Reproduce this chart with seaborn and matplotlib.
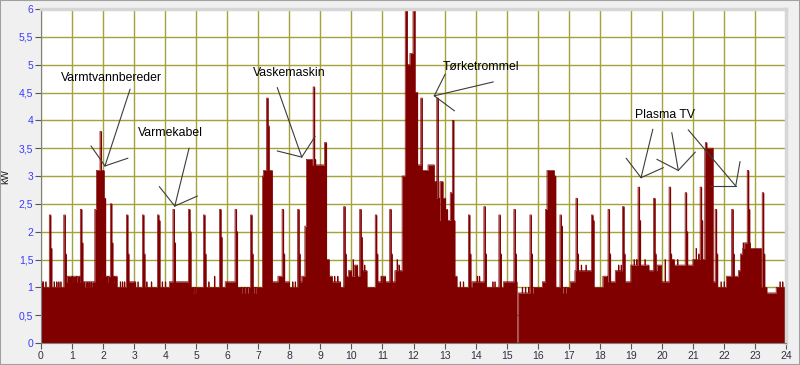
import numpy as np
import pandas as pd
import matplotlib
matplotlib.use("Agg")
import matplotlib.pyplot as plt
from matplotlib.patches import Rectangle
from matplotlib.ticker import FuncFormatter
import seaborn as sns

# ---------------- data (hours, kW) ----------------
base_t = [0.00, 0.08, 0.80, 0.85, 1.25, 1.72, 1.78, 2.02, 2.07, 2.45, 2.80, 3.05,
          4.13, 4.77, 5.35, 5.93, 6.33, 7.13, 7.16, 7.45, 7.62, 7.80, 8.00, 8.30,
          8.40, 8.50, 8.55, 8.72, 9.12, 9.20, 9.27, 9.37, 9.64, 9.78, 9.90, 10.00,
          10.10, 10.20, 10.30, 10.50, 10.76, 11.00, 11.10, 11.40, 11.50, 11.55, 11.62, 11.73,
          11.80, 11.87, 11.97, 12.05, 12.13, 12.25, 12.46, 12.66, 12.72, 12.78, 12.85, 12.95,
          13.03, 13.10, 13.17, 13.24, 13.30, 13.40, 13.88, 14.30, 14.90, 15.33, 15.37, 15.85,
          16.15, 16.25, 16.30, 16.53, 16.57, 17.05, 17.20, 17.75, 18.10, 18.25, 18.50, 18.75,
          19.00, 19.58, 19.85, 19.98, 20.25, 20.40, 21.00, 21.37, 21.64, 21.72, 22.07, 22.46,
          22.53, 22.60, 22.66, 22.85, 23.20, 23.38, 23.68]
base_kw = [1.1, 1.0, 1.1, 1.2, 1.1, 2.4, 3.1, 2.6, 1.2, 1.0, 1.1, 1.0,
           1.1, 1.0, 1.0, 1.1, 1.0, 3.0, 3.1, 1.1, 1.2, 1.1, 1.0, 1.1,
           1.2, 2.1, 3.3, 3.2, 3.6, 1.5, 1.2, 1.1, 1.0, 1.2, 1.3, 1.2,
           1.4, 1.2, 1.3, 1.0, 1.1, 1.2, 1.1, 1.3, 1.4, 1.3, 3.0, 6.4,
           5.0, 5.2, 6.3, 4.5, 3.2, 3.1, 3.2, 2.9, 2.6, 2.2, 2.9, 2.6,
           2.4, 2.2, 2.7, 1.6, 1.2, 1.0, 1.1, 1.0, 1.1, 0.0, 0.9, 1.0,
           1.1, 2.4, 3.1, 3.0, 1.0, 1.1, 1.3, 1.0, 1.2, 1.1, 1.3, 1.1,
           1.4, 1.3, 1.4, 1.1, 1.5, 1.4, 1.5, 3.5, 1.1, 1.0, 1.2, 1.3,
           1.6, 1.7, 1.8, 1.7, 1.0, 0.9, 1.0]

spike_t = [0.26, 0.74, 1.27, 1.90, 2.24, 2.75, 3.26, 3.75, 4.25, 4.75, 5.24, 5.75,
           6.25, 6.75, 7.26, 7.76, 8.26, 8.77, 9.75, 10.26, 10.76, 11.24, 12.24, 12.75,
           13.25, 13.76, 14.26, 14.75, 15.24, 15.75, 16.72, 17.24, 17.74, 18.26, 18.74, 19.24,
           19.74, 20.24, 20.75, 21.24, 21.40, 21.72, 22.25, 22.75, 23.24]
spike_kw = [2.3, 2.3, 2.4, 3.8, 2.5, 2.3, 2.3, 2.3, 2.4, 2.4, 2.3, 2.4,
            2.4, 2.3, 4.4, 2.4, 2.4, 4.6, 2.45, 2.4, 2.3, 2.4, 4.4, 4.4,
            4.0, 2.3, 2.45, 2.3, 2.4, 2.3, 2.3, 2.6, 2.3, 2.4, 2.45, 2.8,
            2.6, 2.8, 2.7, 2.8, 3.6, 2.4, 2.4, 3.1, 2.7]
shoulder_kw = [1.7, 1.6, 1.8, 3.1, 1.8, 1.6, 1.6, 2.2, 1.8, 2.0, 1.6, 1.9,
               2.0, 1.6, 3.9, 1.6, 1.6, 3.3, 1.6, 1.9, 1.6, 1.6, 3.1, 2.6,
               2.2, 1.6, 1.6, 1.6, 1.6, 1.6, 2.1, 1.6, 2.2, 1.6, 1.6, 2.2,
               1.6, 1.6, 2.0, 2.2, 3.5, 1.6, 1.6, 2.4, 1.6]

flick_t = [0.15, 0.33, 0.42, 0.50, 0.57, 0.64, 0.92, 1.00, 1.08, 1.15, 1.40, 1.48,
           1.55, 1.62, 2.15, 2.35, 2.55, 2.62, 2.68, 3.12, 3.40, 3.55, 3.90, 4.00,
           4.90, 4.97, 5.40, 5.58, 6.45, 6.55, 6.65, 6.85, 6.92, 8.10, 8.18, 9.45,
           9.55, 9.85, 10.05, 10.15, 10.35, 10.42, 10.95, 11.05, 11.30, 11.47, 13.50, 13.60,
           14.05, 14.12, 14.55, 14.62, 15.50, 15.60, 15.70, 16.10, 16.80, 16.90, 17.40, 17.55,
           18.60, 18.68, 19.10, 19.18, 19.45, 20.10, 20.30, 20.50, 21.10, 21.18, 21.90, 22.00,
           22.62, 23.80, 23.88]
flick_kw = [1.1, 1.1, 1.1, 1.1, 1.1, 1.1, 1.2, 1.1, 1.2, 1.1, 1.0, 1.0,
            1.0, 1.0, 1.1, 1.1, 1.1, 1.1, 1.1, 1.1, 1.1, 1.1, 1.1, 1.1,
            0.9, 0.9, 1.1, 1.2, 0.9, 0.9, 0.9, 0.9, 0.9, 1.1, 1.1, 1.2,
            1.2, 1.2, 1.5, 1.4, 1.5, 1.4, 1.2, 1.2, 1.0, 1.5, 1.1, 1.1,
            1.2, 1.2, 1.1, 1.1, 1.0, 1.0, 1.0, 1.0, 0.9, 0.9, 1.4, 1.4,
            1.4, 1.4, 1.5, 1.5, 1.5, 1.5, 1.5, 1.5, 1.7, 1.6, 1.1, 1.1,
            1.8, 1.1, 1.1]

x_ticks = list(range(0, 25))
y_ticks = [0, 0.5, 1, 1.5, 2, 2.5, 3, 3.5, 4, 4.5, 5, 5.5, 6]

labels = ["Varmtvannbereder", "Varmekabel", "Vaskemaskin", "Tørketrommel", "Plasma TV"]

# ---------------- build minute series ----------------
minutes = np.arange(24 * 60 + 1)
t = minutes / 60.0
idx = np.searchsorted(np.array(base_t), t + 1e-9, side="right") - 1
kw = np.array(base_kw)[idx].astype(float)
for ft, fk in zip(flick_t, flick_kw):
    m = int(round(ft * 60))
    kw[m] = fk
for st, sk, sh in zip(spike_t, spike_kw, shoulder_kw):
    m = int(round(st * 60))
    kw[m:m + 3] = np.maximum(kw[m:m + 3], sk)
    kw[m + 3:m + 5] = np.maximum(kw[m + 3:m + 5], sh)
kw[-1] = kw[-2]
df = pd.DataFrame({"hour": t, "kW": kw})

# ---------------- figure ----------------
sns.set_theme(style="white")
plt.rcParams["font.family"] = ["Liberation Sans", "DejaVu Sans"]

fig = plt.figure(figsize=(8.0, 3.65), dpi=100, facecolor="#f0f0f0")
ax = fig.add_axes([41 / 800, 22 / 365, 745 / 800, 334 / 365])
ax.set_facecolor("white")

red = "#800000"
ax.fill_between(df["hour"], df["kW"], step="post", color=red, lw=0, zorder=2)
sns.lineplot(data=df, x="hour", y="kW", drawstyle="steps-post", color=red,
             lw=0.5, ax=ax, zorder=2)

ax.set_xlim(0, 24)
ax.set_ylim(0, 6)
ax.set_xticks(x_ticks)
ax.set_yticks(y_ticks)
ax.yaxis.set_major_formatter(FuncFormatter(lambda v, p: ("%g" % v).replace(".", ",")))
ax.grid(True, color="#a3a33a", lw=1.0, zorder=0)
ax.set_axisbelow(True)
ax.tick_params(axis="y", direction="out", length=4, width=0.8, color="#555555",
               labelsize=7.5, labelcolor="#3a3aff", pad=1.5, left=True)
ax.tick_params(axis="x", direction="out", length=4, width=0.8, color="#555555",
               labelsize=7.5, labelcolor="#303040", pad=1.5, bottom=True)
ax.set_xlabel("")
ax.set_ylabel("kW", fontsize=7.5, labelpad=6, color="#202020")

for s in ["left", "bottom"]:
    ax.spines[s].set_color("#808080")
    ax.spines[s].set_linewidth(0.8)
for s in ["top", "right"]:
    ax.spines[s].set_color("#d6d6d6")
    ax.spines[s].set_linewidth(2.5)

# ---------------- callouts ----------------
callouts = [
    (labels[0], (0.64, 4.76), [((2.06, 3.18), [(2.87, 4.56), (1.61, 3.54), (2.80, 3.32)])]),
    (labels[1], (3.13, 3.77), [((4.31, 2.46), [(4.77, 3.50), (3.81, 2.81), (5.04, 2.64)])]),
    (labels[2], (6.83, 4.85), [((8.40, 3.34), [(7.61, 4.59), (7.61, 3.45), (8.83, 3.71)])]),
    (labels[3], (12.94, 4.96), [((12.67, 4.44), [(13.02, 4.83), (14.57, 4.69), (13.32, 4.17)])]),
    (labels[4], (19.14, 4.10), [((19.33, 2.97), [(19.71, 3.84), (18.85, 3.32), (20.05, 3.15)]),
                                ((20.53, 3.10), [(20.32, 3.78), (19.84, 3.30), (21.08, 3.43)]),
                                ((22.38, 2.82), [(20.85, 3.83), (21.55, 2.82), (22.52, 3.26)])]),
]
for name, (tx, ty), groups in callouts:
    ax.text(tx, ty, name, fontsize=8.8, color="black", ha="left", va="center", zorder=5)
    for (px, py), ends in groups:
        for ex, ey in ends:
            ax.plot([px, ex], [py, ey], color="#3c3c3c", lw=0.8, zorder=5)

fig.patches.append(Rectangle((0, 0), 1, 1, transform=fig.transFigure, fill=False,
                             edgecolor="#a0a0a0", lw=1.5))
fig.savefig("out.png", dpi=100, facecolor=fig.get_facecolor())
